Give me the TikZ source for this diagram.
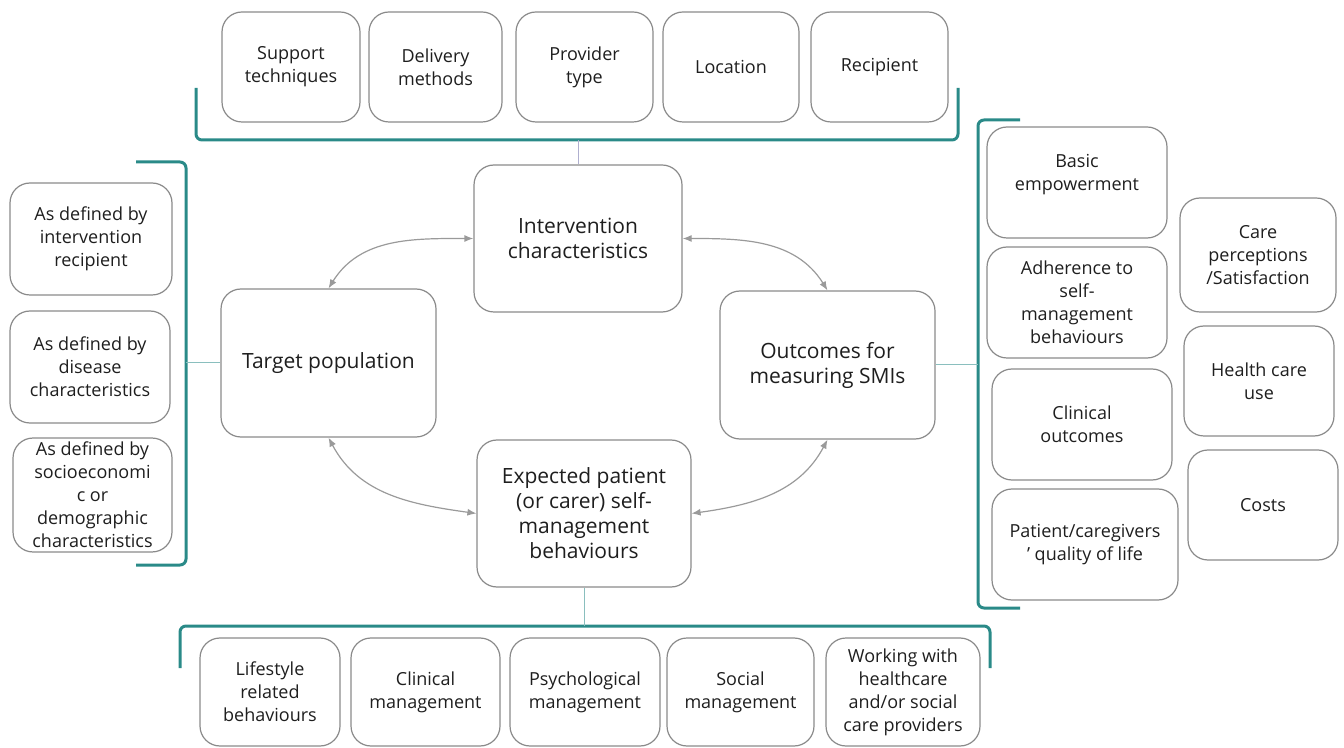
\documentclass[tikz,border=0pt]{standalone}
\usepackage{fontspec}
\setmainfont{Open Sans}
\usetikzlibrary{arrows.meta}

\definecolor{brteal}{HTML}{2A8A88}
\definecolor{boxgray}{HTML}{8A8A8A}
\definecolor{arrgray}{HTML}{9A9A9A}
\definecolor{txtgray}{HTML}{1E1E1E}

\begin{document}
\begin{tikzpicture}[x=0.5pt,y=0.5pt,
  box/.style={draw=boxgray,line width=0.6pt,rounded corners=10pt,align=center,
    text=txtgray,inner sep=2pt,font=\fontsize{9}{11.5}\selectfont},
  bigbox/.style={box,font=\fontsize{10.5}{12.5}\selectfont},
  bracket/.style={draw=brteal,line width=1.5pt,rounded corners=3pt},
  link/.style={draw=brteal!55,line width=0.5pt},
  arr/.style={draw=arrgray,line width=0.6pt,
    {Latex[length=4.5pt,width=3.5pt]}-{Latex[length=4.5pt,width=3.5pt]}}]
\useasboundingbox (0,0) rectangle (1344,-748);

% centre
\node[bigbox,minimum width=104pt,minimum height=73.5pt] (ic) at (578,-238.5) {Intervention\\characteristics};
\node[bigbox,minimum width=107.5pt,minimum height=74pt] (tp) at (328.5,-363) {Target population};
\node[bigbox,minimum width=107.5pt,minimum height=74pt] (oc) at (827.5,-365) {Outcomes for\\measuring SMIs};
\node[bigbox,minimum width=107pt,minimum height=73.5pt] (ep) at (584,-513.5) {Expected patient\\(or carer) self-\\management\\behaviours};

\draw[arr] (tp.north) to[out=58,in=180] (ic.west);
\draw[arr] (tp.south) to[out=-62,in=172] (ep.west);
\draw[arr] (ic.east) to[out=0,in=122] (oc.north);
\draw[arr] (oc.south) to[out=-118,in=8] (ep.east);

% top row
\node[box,minimum width=69pt,minimum height=55pt] (sup) at (291,-67) {Support\\techniques};
\node[box,minimum width=66.5pt,minimum height=55pt] (del) at (435.5,-67) {Delivery\\methods};
\node[box,minimum width=68.5pt,minimum height=55pt] (pro) at (584.5,-67) {Provider\\type};
\node[box,minimum width=68pt,minimum height=55pt] (loc) at (731,-67) {Location};
\node[box,minimum width=68.5pt,minimum height=55pt] (rec) at (879.5,-67) {Recipient};
\draw[bracket] (196,-88) -- (196,-140) -- (958,-140) -- (958,-88);
\coordinate (tb) at (580,-140);
\draw[draw=blue!25!gray!50,line width=0.5pt] (ic.north) -- (ic.north |- tb);

% left column
\node[box,minimum width=81pt,minimum height=56pt] (def1) at (91,-239) {As defined by\\intervention\\recipient};
\node[box,minimum width=80pt,minimum height=56pt] (def2) at (90,-367) {As defined by\\disease\\characteristics};
\node[box,minimum width=79.5pt,minimum height=55pt] (def3) at (92.5,-495) {As defined by\\socioeconomi\\c or\\demographic\\characteristics};
\draw[bracket] (136,-162) -- (186,-162) -- (186,-565) -- (136,-565);
\coordinate (lb) at (186,-363);
\draw[link] (tp.west) -- (tp.west -| lb);

% right columns
\node[box,minimum width=90pt,minimum height=55.5pt] (emp) at (1077,-182.5) {Basic\\empowerment\\[-1.5pt]};
\node[box,minimum width=90pt,minimum height=55.5pt] (adh) at (1077,-302.5) {Adherence to\\self-\\management\\behaviours};
\node[box,minimum width=90pt,minimum height=55.5pt] (clo) at (1082,-424.5) {Clinical\\outcomes};
\node[box,minimum width=93pt,minimum height=55.5pt] (qol) at (1085,-544.5) {Patient/caregivers\\' quality of life};
\node[box,minimum width=78pt,minimum height=57pt] (sat) at (1258,-255) {Care\\perceptions\\/Satisfaction};
\node[box,minimum width=75pt,minimum height=55pt] (hcu) at (1259,-381) {Health care\\use};
\node[box,minimum width=75pt,minimum height=55pt] (cst) at (1263,-505) {Costs};
\draw[bracket] (1020,-120) -- (978,-120) -- (978,-608) -- (1020,-608);
\coordinate (rb) at (978,-365);
\draw[link] (oc.east) -- (oc.east -| rb);

% bottom row
\node[box,minimum width=70pt,minimum height=54pt] (lif) at (270,-692) {Lifestyle\\related\\behaviours};
\node[box,minimum width=74.5pt,minimum height=54pt] (clm) at (425.5,-692) {Clinical\\management};
\node[box,minimum width=75pt,minimum height=54pt] (psy) at (585,-692) {Psychological\\management};
\node[box,minimum width=73.5pt,minimum height=54pt] (soc) at (740.5,-692) {Social\\management};
\node[box,minimum width=77pt,minimum height=54pt] (wrk) at (903,-692) {Working with\\healthcare\\and/or social\\care providers};
\draw[bracket] (180,-668) -- (180,-626) -- (990,-626) -- (990,-668);
\coordinate (bb) at (584,-626);
\draw[link] (ep.south) -- (ep.south |- bb);
\end{tikzpicture}
\end{document}
